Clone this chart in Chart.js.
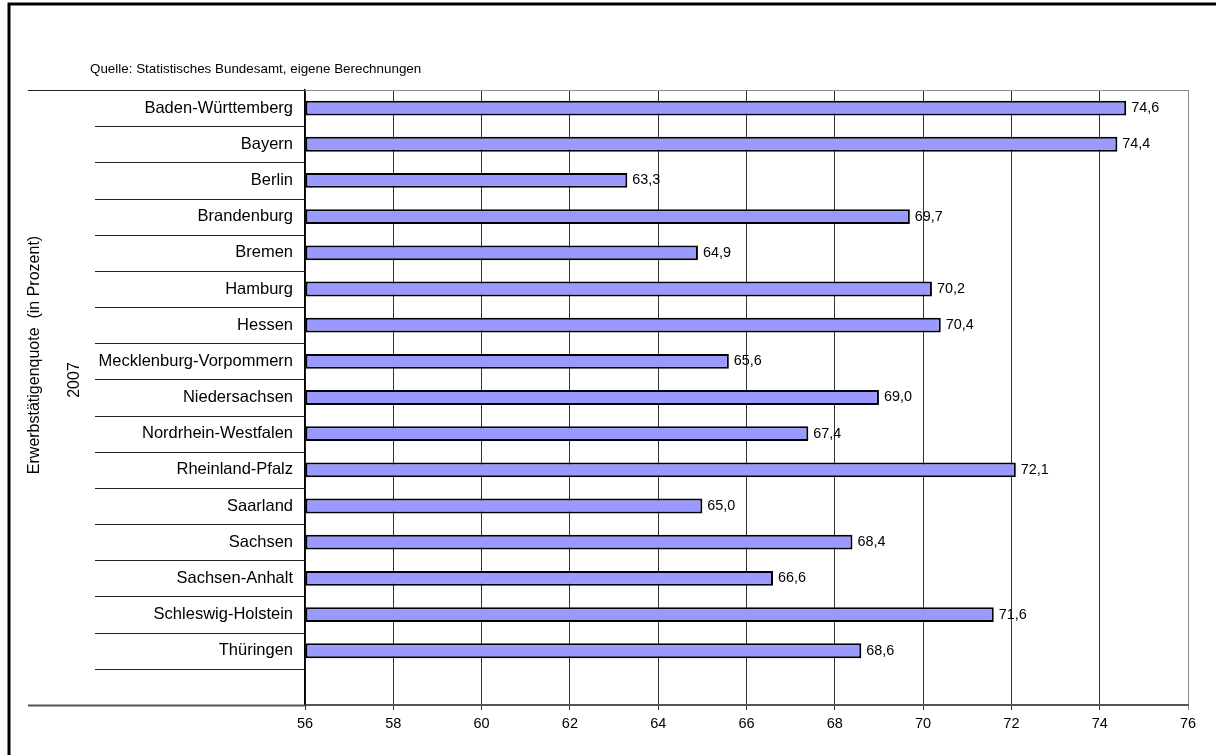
<!DOCTYPE html>
<html>
<head>
<meta charset="utf-8">
<script src="https://cdn.jsdelivr.net/npm/chart.js@4/dist/chart.umd.min.js"></script>
<style>
  html, body { margin: 0; padding: 0; background: #fff; }
  #wrap { position: relative; width: 1216px; height: 755px; }
</style>
</head>
<body>
<div id="wrap"><canvas id="chart"></canvas></div>
<script>
// Erwerbstätigenquote 2007 nach Bundesländern
const laender = [
  'Baden-Württemberg', 'Bayern', 'Berlin', 'Brandenburg', 'Bremen', 'Hamburg',
  'Hessen', 'Mecklenburg-Vorpommern', 'Niedersachsen', 'Nordrhein-Westfalen',
  'Rheinland-Pfalz', 'Saarland', 'Sachsen', 'Sachsen-Anhalt',
  'Schleswig-Holstein', 'Thüringen', ''
];
const quote = [74.6, 74.4, 63.3, 69.7, 64.9, 70.2, 70.4, 65.6, 69.0, 67.4, 72.1, 65.0, 68.4, 66.6, 71.6, 68.6, null];
const xMin = 56;
const xMax = 76;
const xStep = 2;

const sourceText = 'Quelle: Statistisches Bundesamt, eigene Berechnungen';
const axisTitle = 'Erwerbstätigenquote  (in Prozent)';
const axisYear = '2007';

const FONT = '"Liberation Sans", Arial, sans-serif';
const fmt = v => v.toFixed(1).replace('.', ',');

// frame, separators, source text, rotated title, value labels
const decorations = {
  id: 'decorations',
  beforeDraw(chart) {
    const ctx = chart.ctx;
    ctx.save();
    ctx.fillStyle = '#fff';
    ctx.fillRect(0, 0, chart.width, chart.height);
    ctx.restore();
  },
  afterDraw(chart) {
    const ctx = chart.ctx;
    const area = chart.chartArea;
    const yScale = chart.scales.y;
    const n = laender.length;
    const slot = (yScale.bottom - yScale.top) / n;

    ctx.save();
    // outer frame (top + left)
    ctx.strokeStyle = '#000';
    ctx.lineWidth = 3;
    ctx.beginPath();
    ctx.moveTo(9, 755);
    ctx.lineTo(9, 4);
    ctx.lineTo(1216, 4);
    ctx.stroke();

    // plot area top border
    ctx.strokeStyle = '#8c8c8c';
    ctx.lineWidth = 1;
    ctx.beginPath();
    ctx.moveTo(area.left, area.top + 0.5);
    ctx.lineTo(area.right, area.top + 0.5);
    ctx.stroke();

    // category separators left of the axis
    for (let k = 0; k <= n; k++) {
      const y = Math.round(yScale.top + k * slot) + 0.5;
      const outer = (k === 0 || k === n);
      ctx.strokeStyle = k === n ? '#555' : '#222';
      ctx.lineWidth = k === n ? 2 : 1;
      ctx.beginPath();
      ctx.moveTo(outer ? 28 : 95, y);
      ctx.lineTo(area.left, y);
      ctx.stroke();
    }

    // source note
    ctx.fillStyle = '#000';
    ctx.font = '13.4px ' + FONT;
    ctx.textAlign = 'left';
    ctx.textBaseline = 'middle';
    ctx.fillText(sourceText, 90, 69);

    // rotated axis title
    ctx.font = '16px ' + FONT;
    ctx.textAlign = 'center';
    ctx.save();
    ctx.translate(35, 355);
    ctx.rotate(-Math.PI / 2);
    ctx.fillText(axisTitle, 0, 0);
    ctx.restore();
    ctx.save();
    ctx.translate(75, 380);
    ctx.rotate(-Math.PI / 2);
    ctx.fillText(axisYear, 0, 0);
    ctx.restore();

    // value labels
    const meta = chart.getDatasetMeta(0);
    ctx.font = '14.4px ' + FONT;
    ctx.textAlign = 'left';
    ctx.textBaseline = 'middle';
    meta.data.forEach((bar, i) => {
      if (quote[i] == null) return;
      ctx.fillText(fmt(quote[i]), bar.x + 5, bar.y);
    });
    ctx.restore();
  }
};

new Chart(document.getElementById('chart'), {
  type: 'bar',
  data: {
    labels: laender,
    datasets: [{
      data: quote,
      base: xMin,
      backgroundColor: '#9999ff',
      borderColor: '#000',
      borderWidth: 2,
      borderSkipped: false,
      categoryPercentage: 1,
      barPercentage: 0.41
    }]
  },
  options: {
    indexAxis: 'y',
    responsive: true,
    maintainAspectRatio: false,
    animation: false,
    layout: { padding: { top: 90, right: 28, left: 0, bottom: 0 } },
    plugins: {
      legend: { display: false },
      tooltip: { enabled: false }
    },
    scales: {
      x: {
        min: xMin,
        max: xMax,
        afterFit: s => { s.height = 50; },
        ticks: {
          stepSize: xStep,
          color: '#000',
          padding: 5,
          font: { family: FONT, size: 14.5 }
        },
        grid: {
          color: ctx => (ctx.tick && ctx.tick.value === xMax) ? '#8c8c8c' : '#333',
          lineWidth: 1,
          tickLength: 5
        },
        border: { color: '#555', width: 2 }
      },
      y: {
        afterFit: s => { s.width = 305; },
        grid: { display: false, drawTicks: false },
        border: { color: '#000', width: 1.5 },
        ticks: {
          color: '#000',
          padding: 12,
          autoSkip: false,
          font: { family: FONT, size: 16.5 }
        }
      }
    }
  },
  plugins: [decorations]
});
</script>
</body>
</html>
